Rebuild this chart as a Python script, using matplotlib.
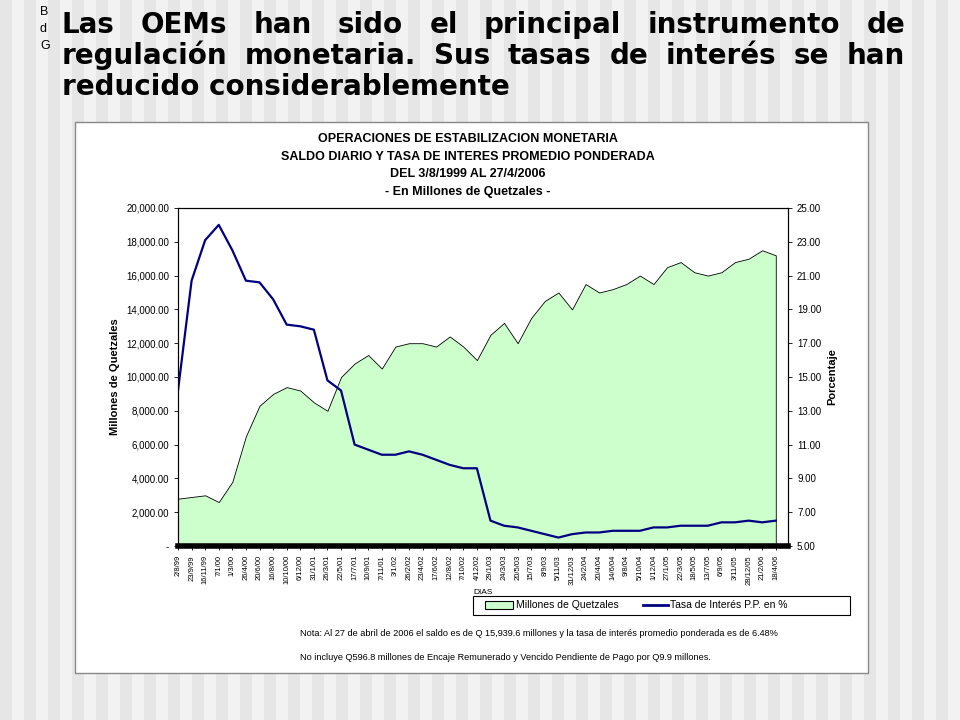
import matplotlib
matplotlib.use("Agg")
import matplotlib.pyplot as plt
from matplotlib.patches import Rectangle
import numpy as np

plt.rcParams["font.family"] = "Liberation Sans"

tick_labels = ["2/8/99","23/9/99","16/11/99","7/1/00","1/3/00","26/4/00","20/6/00","16/8/00",
 "10/10/00","6/12/00","31/1/01","26/3/01","22/5/01","17/7/01","10/9/01","7/11/01","3/1/02",
 "26/2/02","23/4/02","17/6/02","12/8/02","7/10/02","4/12/02","29/1/03","24/3/03","20/5/03",
 "15/7/03","8/9/03","5/11/03","31/12/03","24/2/04","20/4/04","14/6/04","9/8/04","5/10/04",
 "1/12/04","27/1/05","22/3/05","18/5/05","13/7/05","6/9/05","3/11/05","28/12/05","21/2/06","18/4/06"]
saldo = [2800,2900,3000,2600,3800,6500,8300,9000,9400,9200,8500,8000,10000,10800,11300,10500,
 11800,12000,12000,11800,12400,11800,11000,12500,13200,12000,13500,14500,15000,14000,15500,
 15000,15200,15500,16000,15500,16500,16800,16200,16000,16200,16800,17000,17500,17200]
tasa = [14.2,20.7,23.1,24.0,22.5,20.7,20.6,19.6,18.1,18.0,17.8,14.8,14.2,11.0,10.7,10.4,10.4,
 10.6,10.4,10.1,9.8,9.6,9.6,6.5,6.2,6.1,5.9,5.7,5.5,5.7,5.8,5.8,5.9,5.9,5.9,6.1,6.1,6.2,6.2,
 6.2,6.4,6.4,6.5,6.4,6.5]

W, H = 960, 720
fig = plt.figure(figsize=(9.6, 7.2), dpi=100)
bg = fig.add_axes([0, 0, 1, 1]); bg.set_xlim(0, W); bg.set_ylim(H, 0); bg.axis("off")
for i in range(0, W, 24):
    bg.add_patch(Rectangle((i, 0), 12, H, color="#e6e6e6", lw=0))
    bg.add_patch(Rectangle((i + 12, 0), 12, H, color="#f2f2f2", lw=0))
bg.add_patch(Rectangle((75, 122), 793, 551, facecolor="white", edgecolor="#888888", lw=1))
bg.text(40, 12, "B", fontsize=9, va="center")
bg.text(40, 29, "d", fontsize=9, va="center"); bg.text(40, 46, "G", fontsize=9, va="center")

# justified title
lines = ["Las OEMs han sido el principal instrumento de",
         "regulación monetaria. Sus tasas de interés se han",
         "reducido considerablemente"]
tfont = dict(fontsize=20, fontweight="bold", family="DejaVu Sans", va="baseline")
fig.canvas.draw()
r = fig.canvas.get_renderer()
x0, x1 = 62, 905
for k, ln in enumerate(lines):
    y = 33 + k * 31
    words = ln.split()
    if k == len(lines) - 1:
        bg.text(x0, y, ln, **tfont)
        continue
    ts = [bg.text(0, y, w, **tfont) for w in words]
    ws = [t.get_window_extent(r).width for t in ts]
    gap = (x1 - x0 - sum(ws)) / (len(words) - 1)
    pos = x0
    for t, w in zip(ts, ws):
        t.set_x(pos); pos += w + gap

titles = ["OPERACIONES DE ESTABILIZACION MONETARIA", "SALDO DIARIO Y TASA DE INTERES PROMEDIO PONDERADA",
          "DEL 3/8/1999 AL 27/4/2006", "- En Millones de Quetzales -"]
for k, t in enumerate(titles):
    bg.text(468, 139 + k * 17.5, t, fontsize=9, fontweight="bold", ha="center", va="center")

ax = fig.add_axes([178 / W, 1 - 546 / H, 610 / W, 338 / H])
x = np.arange(len(saldo))
ax.fill_between(x, saldo, color="#ccffcc", edgecolor="black", lw=0.6)
ax.set_xlim(0, len(saldo) - 0.1); ax.set_ylim(0, 20000)
ax.set_yticks(np.arange(0, 20001, 2000))
ax.set_yticklabels(["-"] + [f"{v:,.2f}" for v in range(2000, 20001, 2000)], fontsize=7)
ax.set_xticks(x); ax.set_xticklabels(tick_labels, rotation=90, fontsize=5.5)
ax.set_ylabel("Millones de Quetzales", fontsize=8, fontweight="bold")
ax.spines["bottom"].set_linewidth(4)
ax2 = ax.twinx()
ax2.plot(x, tasa, color="#000080", lw=1.6)
ax2.set_ylim(5, 25); ax2.set_yticks(np.arange(5, 25.1, 2))
ax2.set_yticklabels([f"{v:.2f}" for v in np.arange(5, 25.1, 2)], fontsize=7)
ax2.set_ylabel("Porcentaje", fontsize=8, fontweight="bold")
for a in (ax, ax2):
    a.tick_params(length=3, width=0.6)

bg.text(473, 593, "DIAS", fontsize=6, ha="left", va="center")
bg.add_patch(Rectangle((473, 596), 377, 19, facecolor="white", edgecolor="black", lw=0.8))
bg.add_patch(Rectangle((485, 601), 28, 8, facecolor="#ccffcc", edgecolor="black", lw=0.8))
bg.text(516, 605, "Millones de Quetzales", fontsize=7.5, va="center")
bg.plot([643, 668], [605, 605], color="#000080", lw=2)
bg.text(670, 605, "Tasa de Interés P.P. en %", fontsize=7.5, va="center")
bg.text(300, 634, "Nota: Al 27 de abril de 2006 el saldo es de Q 15,939.6 millones y la tasa de interés promedio ponderada es de 6.48%", fontsize=6.6, va="center")
bg.text(300, 657, "No incluye Q596.8 millones de Encaje Remunerado y Vencido Pendiente de Pago por Q9.9 millones.", fontsize=6.6, va="center")

fig.savefig("out.png", dpi=100)
